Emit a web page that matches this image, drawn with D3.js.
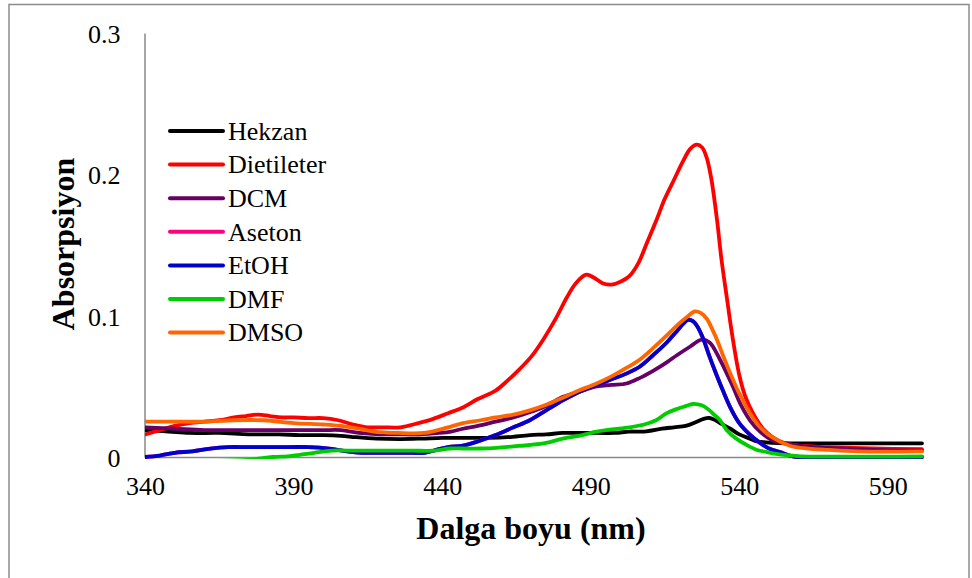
<!DOCTYPE html>
<html>
<head>
<meta charset="utf-8">
<script src="https://cdn.jsdelivr.net/npm/d3@7"></script>
<style>
html,body{margin:0;padding:0;background:#fff;}
svg{display:block;}
</style>
</head>
<body>
<svg id="chart" width="972" height="578"></svg>
<script>
// ---- data ----
const seriesNames = ["Hekzan","Dietileter","DCM","Aseton","EtOH","DMF","DMSO"];
const seriesColors = ["#000000","#FF0000","#660066","#FF0080","#0000CC","#00CC00","#FF6600"];
const xTicks = [340,390,440,490,540,590];
const yTicks = [0,0.1,0.2,0.3];
const yTickLabels = ["0","0.1","0.2","0.3"];

const hekzan = [[340,0.019],[348,0.018],[355,0.017],[365,0.017],[375,0.016],[385,0.016],[392,0.0155],[400,0.0155],[406,0.015],[411,0.014],[418,0.013],[426,0.0127],[433,0.013],[440,0.0135],[447,0.0135],[455,0.0135],[462,0.014],[469.5,0.0155],[475,0.016],[480.6,0.017],[487,0.017],[492,0.017],[498,0.017],[503,0.018],[508,0.018],[514,0.020],[518,0.021],[522,0.022],[525.7,0.025],[528,0.027],[530,0.0276],[532,0.026],[534,0.0235],[537,0.020],[540,0.016],[543.6,0.013],[546,0.011],[549,0.0103],[553,0.0098],[560,0.0097],[601.5,0.0097]];
const dietileter = [[340,0.016],[345,0.019],[350,0.022],[355,0.024],[360,0.025],[365,0.026],[370,0.028],[374,0.029],[378,0.030],[382,0.029],[386,0.028],[390,0.028],[395,0.0275],[400,0.0275],[405,0.026],[410,0.023],[415,0.021],[420,0.021],[426,0.021],[432,0.024],[437,0.027],[442,0.031],[447,0.035],[452,0.041],[458,0.047],[462,0.054],[466,0.062],[470,0.071],[474,0.083],[478,0.097],[482,0.113],[485,0.123],[488.5,0.129],[491,0.127],[494,0.123],[497,0.122],[500,0.124],[503,0.128],[506,0.137],[509,0.152],[512,0.167],[515,0.183],[518,0.196],[521,0.209],[523.5,0.218],[525.7,0.221],[527.5,0.219],[529,0.212],[530.5,0.198],[532.5,0.168],[534,0.140],[535.8,0.113],[537.5,0.088],[540,0.058],[542,0.043],[544.6,0.031],[548,0.020],[551.3,0.014],[555,0.010],[560,0.008],[570,0.007],[585,0.006],[601.5,0.0055]];
const dcm = [[340,0.021],[350,0.020],[360,0.019],[370,0.019],[380,0.019],[390,0.019],[400,0.019],[406,0.019],[412,0.017],[419,0.016],[425,0.016],[432,0.016],[439,0.017],[443,0.018],[447,0.020],[452,0.022],[458,0.025],[464,0.028],[470,0.032],[475,0.036],[480,0.042],[486,0.046],[492,0.050],[497,0.051],[502,0.052],[506.6,0.056],[511,0.061],[515.6,0.067],[519,0.072],[523.4,0.078],[527.4,0.083],[530,0.081],[533.5,0.069],[537.8,0.050],[540.5,0.037],[543.6,0.026],[547,0.018],[551,0.012],[557,0.009],[565,0.007],[575,0.006],[585,0.005],[601.5,0.0045]];
const aseton = [[340,0.000],[345,0.001],[350,0.003],[356,0.004],[362,0.006],[368,0.007],[375,0.007],[385,0.007],[395,0.007],[402,0.006],[408,0.004],[413,0.003],[420,0.003],[428,0.003],[434,0.003],[438,0.005],[442,0.007],[447,0.008],[452,0.011],[458,0.0155],[464,0.021],[469.5,0.026],[475,0.033],[480.6,0.040],[486,0.046],[492,0.051],[497,0.055],[502,0.059],[506.6,0.064],[511,0.072],[515.6,0.081],[519,0.089],[522.7,0.097],[524.5,0.096],[526,0.092],[528,0.083],[530,0.071],[532,0.060],[534.5,0.047],[537,0.035],[540,0.024],[543.5,0.016],[547,0.010],[550,0.006],[553.7,0.0035],[557,0.001],[560,0],[601.5,0]];
const etoh = [[340,0.000],[345,0.001],[350,0.003],[356,0.004],[362,0.006],[368,0.007],[375,0.007],[385,0.007],[395,0.007],[402,0.006],[408,0.004],[413,0.003],[420,0.003],[428,0.003],[434,0.003],[438,0.005],[442,0.007],[447,0.008],[452,0.011],[458,0.0155],[464,0.021],[469.5,0.026],[475,0.033],[480.6,0.040],[486,0.046],[492,0.051],[497,0.055],[502,0.059],[506.6,0.064],[511,0.072],[515.6,0.081],[519,0.089],[522.7,0.097],[524.5,0.096],[526,0.092],[528,0.083],[530,0.071],[532,0.060],[534.5,0.047],[537,0.035],[540,0.024],[543.5,0.016],[547,0.010],[550,0.006],[553.7,0.0035],[557,0.001],[560,0],[601.5,0]];
const dmf = [[340,-0.004],[360,-0.003],[375,-0.002],[383,0],[388,0.0005],[392,0.0015],[397,0.003],[403,0.0045],[411,0.0045],[420,0.0045],[430,0.0045],[437,0.0045],[442.6,0.006],[447,0.006],[453,0.006],[458.4,0.0065],[464,0.0075],[469.5,0.0085],[475,0.010],[480.6,0.013],[486,0.015],[492,0.018],[497,0.0195],[503,0.021],[508,0.023],[512,0.026],[515.6,0.031],[519,0.034],[522,0.036],[524.4,0.0375],[526.5,0.037],[528,0.036],[530,0.033],[531.5,0.030],[533.5,0.026],[535.8,0.019],[539,0.013],[542.5,0.0085],[546,0.005],[549.3,0.0035],[553,0.002],[557,0.0012],[561,0.0005],[601.5,0.0005]];
const dmso = [[340,0.025],[350,0.025],[360,0.025],[370,0.026],[380,0.026],[390,0.024],[400,0.023],[406,0.022],[412,0.020],[417,0.018],[425,0.017],[434,0.017],[442,0.021],[447,0.024],[453,0.026],[458,0.028],[464,0.030],[469.5,0.033],[475,0.037],[480.6,0.042],[486,0.047],[492,0.052],[497,0.057],[502,0.063],[506.6,0.069],[511,0.077],[515.6,0.086],[519,0.093],[522.4,0.099],[525,0.103],[527,0.102],[529,0.098],[531,0.090],[532.5,0.083],[534.5,0.072],[536.8,0.060],[540,0.045],[543.6,0.031],[547,0.021],[551,0.014],[557,0.008],[563,0.006],[570,0.005],[580,0.004],[601.5,0.004]];
const seriesData = [hekzan, dietileter, dcm, aseton, etoh, dmf, dmso];

// ---- layout ----
const svg = d3.select("#chart");
const x = d3.scaleLinear().domain([340, 601.5]).range([145, 922]);
const y = d3.scaleLinear().domain([0, 0.3]).range([457, 33]);

// outer frame
svg.append("rect").attr("x",9).attr("y",4.5).attr("width",960).attr("height",620)
  .attr("fill","none").attr("stroke","#8c8c8c").attr("stroke-width",1.5);

const axisColor = "#898989";
// y axis
const yAxis = svg.append("g").attr("transform","translate(144.5,0)")
  .call(d3.axisLeft(y).tickValues(yTicks).tickSize(0).tickFormat((d,i)=>yTickLabels[i]));
yAxis.select(".domain").attr("stroke",axisColor).attr("stroke-width",1.5);
yAxis.selectAll("text").attr("font-family","'Liberation Serif','Times New Roman',serif")
  .attr("font-size",26).attr("fill","#000").attr("x",-24).attr("dy","0.36em");

// x axis
const xAxis = svg.append("g").attr("transform","translate(0,457)")
  .call(d3.axisBottom(x).tickValues(xTicks).tickSize(0).tickFormat(d3.format("d")));
xAxis.select(".domain").attr("stroke",axisColor).attr("stroke-width",1.5);
xAxis.selectAll("text").attr("font-family","'Liberation Serif','Times New Roman',serif")
  .attr("font-size",26).attr("fill","#000").attr("y",38).attr("dy",0);

// clip
svg.append("clipPath").attr("id","plotclip").append("rect")
  .attr("x",145).attr("y",20).attr("width",790).attr("height",439);

const line = d3.line().x(d=>x(d[0])).y(d=>y(d[1])).curve(d3.curveCatmullRom.alpha(0.5));
const plot = svg.append("g").attr("clip-path","url(#plotclip)");
seriesData.forEach((s,i)=>{
  plot.append("path").datum(s).attr("d",line).attr("fill","none")
    .attr("stroke",seriesColors[i]).attr("stroke-width",3.8)
    .attr("stroke-linejoin","round").attr("stroke-linecap","round");
});

// legend
const leg = svg.append("g");
seriesNames.forEach((n,i)=>{
  const yy = 131 + i*33.6;
  leg.append("line").attr("x1",170).attr("x2",223).attr("y1",yy).attr("y2",yy)
    .attr("stroke",seriesColors[i]).attr("stroke-width",4).attr("stroke-linecap","round");
  leg.append("text").attr("x",228).attr("y",yy).attr("dy","0.34em")
    .attr("font-family","'Liberation Serif','Times New Roman',serif").attr("font-size",26)
    .attr("fill","#000").text(n);
});

// axis titles
svg.append("text").attr("x",531).attr("y",539).attr("text-anchor","middle")
  .attr("font-family","'Liberation Serif','Times New Roman',serif").attr("font-size",32)
  .attr("font-weight","bold").attr("fill","#000").text("Dalga boyu (nm)");
svg.append("text").attr("transform","translate(74,244) rotate(-90)").attr("text-anchor","middle")
  .attr("font-family","'Liberation Serif','Times New Roman',serif").attr("font-size",32)
  .attr("font-weight","bold").attr("fill","#000").text("Absorpsiyon");
</script>
</body>
</html>
